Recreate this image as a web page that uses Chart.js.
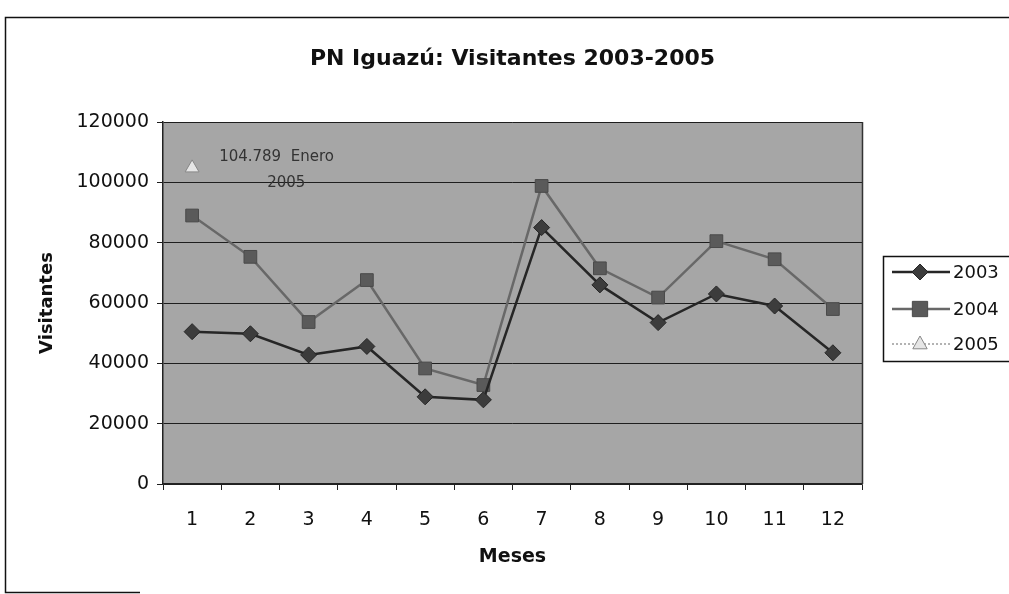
<!DOCTYPE html>
<html>
<head>
<meta charset="utf-8">
<script src="https://cdn.jsdelivr.net/npm/chart.js@4.4.1/dist/chart.umd.min.js"></script>
<style>
  html, body { margin: 0; padding: 0; background: #fff; }
  canvas { display: block; }
</style>
</head>
<body>
<canvas id="c" width="1009" height="594"></canvas>
<script>
const meses = ['1','2','3','4','5','6','7','8','9','10','11','12'];
const v2003 = [50500, 49800, 42800, 45600, 28900, 27900, 85000, 66000, 53500, 63000, 59000, 43500];
const v2004 = [89000, 75300, 53700, 67600, 38300, 32800, 98800, 71500, 61800, 80500, 74500, 58000];
const v2005 = [104789, null, null, null, null, null, null, null, null, null, null, null];
const seriesNames = ['2003', '2004', '2005'];
const yTicks = [0, 20000, 40000, 60000, 80000, 100000, 120000];
const titleText = 'PN Iguazú: Visitantes 2003-2005';
const annotLines = ['104.789  Enero', '2005'];

const FONT = '"DejaVu Sans", Verdana, sans-serif';

const bgPlugin = {
  id: 'bg',
  beforeDraw(chart) {
    const {ctx, chartArea: a} = chart;
    ctx.save();
    ctx.strokeStyle = '#111';
    ctx.lineWidth = 1.5;
    ctx.beginPath();
    ctx.moveTo(1009, 17.5);
    ctx.lineTo(5.5, 17.5);
    ctx.lineTo(5.5, 592.5);
    ctx.lineTo(140, 592.5);
    ctx.stroke();
    ctx.fillStyle = '#a6a6a6';
    ctx.fillRect(a.left, a.top, a.right - a.left, a.bottom - a.top);
    ctx.restore();
  },
  afterDatasetsDraw(chart) {
    const {ctx, chartArea: a} = chart;
    ctx.save();
    ctx.strokeStyle = '#333';
    ctx.lineWidth = 1.5;
    ctx.beginPath();
    ctx.moveTo(a.right + 0.5, a.top);
    ctx.lineTo(a.right + 0.5, a.bottom);
    ctx.stroke();
    const p = chart.getDatasetMeta(2).data[0];
    ctx.fillStyle = '#333';
    ctx.font = '15px ' + FONT;
    ctx.textBaseline = 'middle';
    ctx.textAlign = 'left';
    ctx.fillText(annotLines[0], p.x + 27, p.y - 11);
    ctx.fillText(annotLines[1], p.x + 75, p.y + 15);
    ctx.restore();
  },
  afterDraw(chart) {
    const {ctx} = chart;
    ctx.save();
    const bx = 883.5, by = 256.5, bw = 140, bh = 105;
    ctx.fillStyle = '#fff';
    ctx.fillRect(bx, by, bw, bh);
    ctx.strokeStyle = '#111';
    ctx.lineWidth = 1.5;
    ctx.strokeRect(bx, by, bw, bh);
    const rows = [272, 309, 344];
    chart.data.datasets.forEach((ds, i) => {
      const y = rows[i];
      ctx.save();
      ctx.strokeStyle = ds.borderColor;
      ctx.lineWidth = ds.borderWidth;
      ctx.setLineDash(ds.borderDash || []);
      ctx.beginPath();
      ctx.moveTo(892, y);
      ctx.lineTo(950, y);
      ctx.stroke();
      ctx.restore();
      ctx.fillStyle = ds.pointBackgroundColor;
      ctx.strokeStyle = ds.pointBorderColor;
      ctx.lineWidth = ds.pointBorderWidth || 1;
      ctx.beginPath();
      drawShape(ctx, ds.pointStyle, 920, y, ds.pointRadius);
      ctx.fill();
      ctx.stroke();
      ctx.fillStyle = '#111';
      ctx.font = '18px ' + FONT;
      ctx.textBaseline = 'middle';
      ctx.textAlign = 'left';
      ctx.fillText(seriesNames[i], 953, y + 1);
    });
    ctx.restore();
  }
};

function drawShape(ctx, style, x, y, r) {
  if (style === 'rectRot') {
    ctx.moveTo(x, y - r); ctx.lineTo(x + r, y); ctx.lineTo(x, y + r); ctx.lineTo(x - r, y); ctx.closePath();
  } else if (style === 'rect') {
    const s = r * 0.85;
    ctx.rect(x - s, y - s, 2 * s, 2 * s);
  } else {
    ctx.moveTo(x, y - r); ctx.lineTo(x + r * 0.9, y + r * 0.6); ctx.lineTo(x - r * 0.9, y + r * 0.6); ctx.closePath();
  }
}

new Chart(document.getElementById('c'), {
  type: 'line',
  data: {
    labels: meses,
    datasets: [
      {
        label: seriesNames[0], data: v2003,
        borderColor: '#262626', borderWidth: 2.5,
        pointStyle: 'rectRot', pointRadius: 8,
        pointBackgroundColor: '#3c3c3c', pointBorderColor: '#262626', pointBorderWidth: 1,
        tension: 0, order: 1
      },
      {
        label: seriesNames[1], data: v2004,
        borderColor: '#686868', borderWidth: 2.5,
        pointStyle: 'rect', pointRadius: 9,
        pointBackgroundColor: '#5a5a5a', pointBorderColor: '#4a4a4a', pointBorderWidth: 1,
        tension: 0, order: 2
      },
      {
        label: seriesNames[2], data: v2005,
        borderColor: '#9a9a9a', borderWidth: 1.5, borderDash: [2, 2],
        pointStyle: 'triangle', pointRadius: 8,
        pointBackgroundColor: '#e6e6e6', pointBorderColor: '#888', pointBorderWidth: 1,
        tension: 0, order: 3
      }
    ]
  },
  options: {
    responsive: false,
    animation: false,
    layout: { padding: { left: 0, right: 147, top: 0, bottom: 0 } },
    plugins: {
      legend: { display: false },
      tooltip: { enabled: false },
      title: {
        display: true, text: titleText, fullSize: false,
        color: '#111',
        font: { family: FONT, size: 22, weight: 'bold' },
        padding: { top: 46, bottom: 49.6 }
      }
    },
    scales: {
      x: {
        offset: true,
        grid: { drawOnChartArea: false, offset: true, tickLength: 6, color: '#222', lineWidth: 1 },
        border: { color: '#222', width: 1.5 },
        ticks: { color: '#111', font: { family: FONT, size: 19 }, padding: 19, maxRotation: 0, autoSkip: false },
        title: { display: true, text: 'Meses', color: '#111', font: { family: FONT, size: 19, weight: 'bold' }, padding: { top: 0, bottom: 26 } },
        afterFit(s) { s.height = 110; }
      },
      y: {
        min: 0, max: 120000,
        afterBuildTicks(s) { s.ticks = yTicks.map(v => ({ value: v })); },
        grid: { color: '#1e1e1e', lineWidth: 1, tickLength: 6 },
        border: { color: '#222', width: 1.5 },
        ticks: { color: '#111', font: { family: FONT, size: 19 }, padding: 8, callback: v => String(v) },
        title: { display: true, text: 'Visitantes', color: '#111', font: { family: FONT, size: 18, weight: 'bold' }, padding: { top: 37, bottom: 0 } },
        afterFit(s) { s.width = 163; }
      }
    }
  },
  plugins: [bgPlugin]
});
</script>
</body>
</html>
